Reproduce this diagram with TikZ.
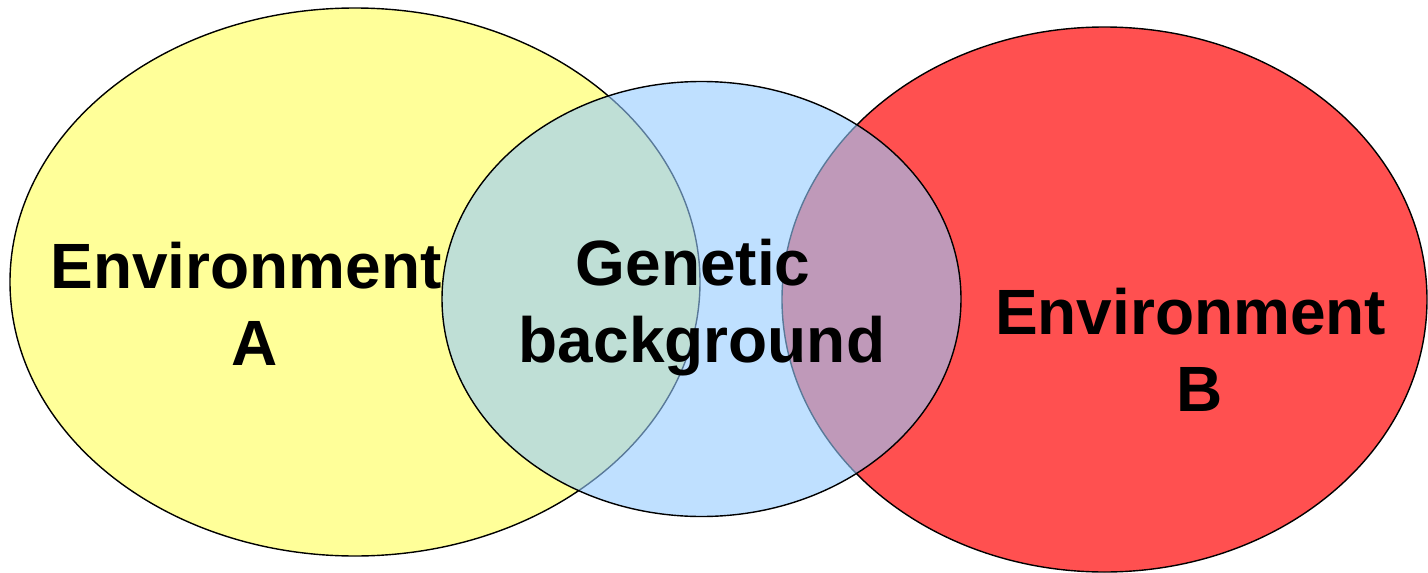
\documentclass[tikz,border=0pt]{standalone}
\usepackage{fontspec}
\setmainfont{Liberation Sans}
\definecolor{envA}{HTML}{FFFF99}
\definecolor{envB}{HTML}{FF5050}
\definecolor{gen}{HTML}{95CBFF}
\begin{document}
\begin{tikzpicture}[x=1pt,y=-1pt,
  setfill/.style={draw=black,line width=1.4pt},
  lbl/.style={align=center,anchor=base,inner sep=0pt,
    font=\fontsize{64}{77}\selectfont\bfseries}]
\useasboundingbox (0,0) rectangle (1428,573);
\draw[setfill,fill=envA] (355,282) ellipse [x radius=345,y radius=274];
\draw[setfill,fill=envB] (1104.5,299.5) ellipse [x radius=322.5,y radius=272.5];
\draw[setfill,fill=gen,fill opacity=0.6] (701.5,299) ellipse [x radius=259.5,y radius=217.5];
\node[lbl] (a) at (255,365) {Environment\kern.278em\\A};
\node[lbl] (g) at (702,362) {Genetic\kern.278em\\background};
\node[lbl] (b) at (1199.5,411) {Environment\kern.278em\\B};
\end{tikzpicture}
\end{document}
